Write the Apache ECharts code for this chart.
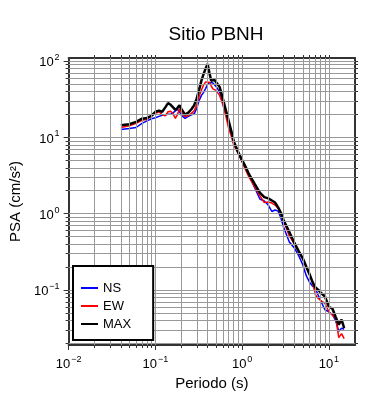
<!DOCTYPE html>
<html>
<head>
<meta charset="utf-8">
<script src="https://cdn.jsdelivr.net/npm/echarts@6/dist/echarts.min.js"></script>
<style>
  html, body { margin: 0; padding: 0; background: #fff; }
  #chart { width: 390px; height: 400px; }
</style>
</head>
<body>
<div id="chart"></div>
<script>
// periods (s)
const periods = [0.04, 0.05, 0.06, 0.07, 0.08, 0.09, 0.10, 0.11, 0.12, 0.13, 0.14, 0.15, 0.16, 0.17, 0.18, 0.19, 0.20,
  0.22, 0.24, 0.26, 0.28, 0.30, 0.32, 0.34, 0.36, 0.38, 0.40, 0.42, 0.44, 0.46, 0.48, 0.50,
  0.55, 0.60, 0.65, 0.70, 0.75, 0.80, 0.90, 1.0, 1.1, 1.2, 1.4, 1.6, 1.8, 2.0, 2.2, 2.4, 2.6, 2.8, 3.0,
  3.5, 4.0, 4.5, 5.0, 5.5, 6.0, 6.5, 7.0, 7.5, 8.0, 9.0, 10, 11, 12, 13, 14, 15];

const ns = [12.7, 13.1, 13.5, 15.3, 16.5, 17.6, 18.1, 18.9, 19.5, 19.8, 20.1, 20.1, 21.0, 22.3, 23.4, 21.7, 19.5,
  17.8, 18.9, 19.8, 20.4, 24.1, 30.6, 35.6, 39.0, 44.0, 49.6, 52.7, 51.9, 51.9, 51.1, 46.7,
  39.6, 27.2, 20.7, 15.8, 12.0, 8.79, 6.31, 4.89, 3.96, 3.21, 2.17, 1.56, 1.47, 1.30, 1.07, 1.12, 1.08, 0.879, 0.670,
  0.427, 0.356, 0.280, 0.214, 0.153, 0.126, 0.112, 0.104, 0.0865, 0.0733, 0.0551, 0.0519, 0.0474, 0.0396, 0.0288, 0.0316, 0.0306];

const ew = [13.5, 14.2, 15.3, 16.8, 17.3, 19.2, 20.7, 21.7, 19.8, 19.2, 21.7, 22.0, 20.4, 17.8, 20.1, 23.7, 21.0,
  18.7, 19.5, 20.7, 22.3, 26.8, 34.6, 42.0, 48.9, 53.5, 56.0, 52.7, 47.4, 43.3, 42.7, 41.4,
  35.6, 27.2, 18.9, 13.2, 10.4, 7.91, 6.22, 4.78, 3.73, 3.02, 2.23, 1.73, 1.40, 1.42, 1.38, 1.30, 1.17, 0.991, 0.803,
  0.511, 0.402, 0.316, 0.256, 0.195, 0.158, 0.124, 0.0865, 0.0779, 0.0733, 0.0670, 0.0519, 0.0467, 0.0427, 0.0237, 0.0268, 0.0230];

const maxv = [14.4, 14.9, 16.0, 17.6, 18.0, 19.2, 21.7, 22.5, 21.7, 24.8, 28.2, 26.8, 24.8, 23.0, 24.4, 26.4, 23.4,
  19.9, 21.2, 23.4, 26.4, 32.5, 42.7, 56.0, 68.0, 80.3, 91.9, 70.1, 55.5, 56.0, 56.8, 55.5,
  46.0, 32.1, 22.7, 16.4, 12.1, 8.92, 6.41, 5.04, 4.08, 3.30, 2.44, 1.89, 1.65, 1.59, 1.49, 1.40, 1.21, 1.02, 0.827,
  0.576, 0.414, 0.321, 0.260, 0.201, 0.160, 0.126, 0.108, 0.101, 0.0933, 0.0822, 0.0603, 0.0568, 0.0440, 0.0351, 0.0408, 0.0316];

// axis ticks / labels
const xMajor = [0.01, 0.1, 1, 10];
const yMajor = [0.1, 1, 10, 100];
const xDecades = [0.01, 0.1, 1, 10];
const yDecades = [0.01, 0.1, 1, 10, 100];

const FONT = 'Liberation Sans';
const X_MIN = 0.01, X_MAX = 20, Y_MIN = 0.019, Y_MAX = 110;

function subLines(decades, lo, hi) {
  let out = [];
  decades.forEach(d => {
    for (let k = 1; k <= 9; k++) {
      let v = +(d * k).toPrecision(3);
      if (v > lo * 1.0001 && v < hi * 0.9999) out.push(v);
    }
  });
  return out;
}
const xGrid = subLines(xDecades, X_MIN, X_MAX);
const yGrid = subLines(yDecades, Y_MIN, Y_MAX);
const xMinor = xGrid.filter(v => xMajor.indexOf(v) < 0);
const yMinor = yGrid.filter(v => yMajor.indexOf(v) < 0);

function powLabel(v) {
  let e = Math.round(Math.log10(v));
  let s = String(e).replace('-', '\u2212');
  return '{b|10}{s|' + s + '}';
}
const labelRich = {
  b: { fontSize: 13, fontFamily: FONT, color: '#000', lineHeight: 16, verticalAlign: 'bottom' },
  s: { fontSize: 9, fontFamily: FONT, color: '#000', lineHeight: 16, verticalAlign: 'top', padding: [0, 0, 0, 1] }
};

const frame = { show: true, lineStyle: { color: '#333', width: 2 } };
const tickStyle = { color: '#333', width: 1 };

let myChart = echarts.init(document.getElementById('chart'));

let option = {
  animation: false,
  backgroundColor: '#fff',
  title: {
    text: 'Sitio PBNH',
    left: 211,
    top: 20,
    textAlign: 'center',
    textStyle: { fontFamily: FONT, fontSize: 19, fontWeight: 'normal', color: '#000' }
  },
  legend: {
    orient: 'vertical',
    left: 73,
    top: 266,
    z: 10,
    padding: [15, 22, 9, 8],
    icon: 'rect',
    itemWidth: 17,
    itemHeight: 2,
    itemGap: 4,
    itemTextGap: 9,
    backgroundColor: '#fff',
    borderColor: '#000',
    borderWidth: 2,
    borderRadius: 0,
    data: ['NS', 'EW', 'MAX'],
    textStyle: { fontFamily: FONT, fontSize: 13, color: '#000', lineHeight: 14 }
  },
  grid: { left: 67, right: 35, top: 58, bottom: 55 },
  xAxis: [
    {
      type: 'log', logBase: 10, min: X_MIN, max: X_MAX, position: 'bottom',
      name: 'Periodo (s)', nameLocation: 'middle', nameGap: 29,
      nameTextStyle: { fontFamily: FONT, fontSize: 15, color: '#000' },
      axisLine: frame,
      axisTick: { show: true, customValues: xMajor, length: 5, lineStyle: tickStyle },
      axisLabel: { customValues: xMajor, formatter: powLabel, rich: labelRich, margin: 10 },
      splitLine: { show: false }
    },
    {
      type: 'log', logBase: 10, min: X_MIN, max: X_MAX, position: 'bottom',
      axisLine: { show: false },
      axisTick: { show: true, customValues: xMinor, length: 3, lineStyle: tickStyle },
      axisLabel: { show: false },
      splitLine: { show: false }
    },
    {
      type: 'log', logBase: 10, min: X_MIN, max: X_MAX, position: 'top',
      axisLine: frame,
      axisTick: { show: true, customValues: xGrid, length: 3, lineStyle: tickStyle },
      axisLabel: { show: false },
      splitLine: { show: false }
    }
  ],
  yAxis: [
    {
      type: 'log', logBase: 10, min: Y_MIN, max: Y_MAX, position: 'left',
      name: 'PSA (cm/s²)', nameLocation: 'middle', nameGap: 42,
      nameTextStyle: { fontFamily: FONT, fontSize: 15, color: '#000' },
      axisLine: frame,
      axisTick: { show: true, customValues: yMajor, length: 5, lineStyle: tickStyle },
      axisLabel: { customValues: yMajor, formatter: powLabel, rich: labelRich, margin: 9 },
      splitLine: { show: false }
    },
    {
      type: 'log', logBase: 10, min: Y_MIN, max: Y_MAX, position: 'left',
      axisLine: { show: false },
      axisTick: { show: true, customValues: yMinor, length: 3, lineStyle: tickStyle },
      axisLabel: { show: false },
      splitLine: { show: false }
    },
    {
      type: 'log', logBase: 10, min: Y_MIN, max: Y_MAX, position: 'right',
      axisLine: frame,
      axisTick: { show: true, customValues: yGrid, length: 3, lineStyle: tickStyle },
      axisLabel: { show: false },
      splitLine: { show: false }
    }
  ],
  series: [
    {
      name: 'grid', type: 'line', data: [], z: 1, silent: true,
      markLine: {
        silent: true, symbol: ['none', 'none'], animation: false,
        label: { show: false },
        lineStyle: { color: '#999', width: 1, type: 'solid' },
        emphasis: { disabled: true },
        data: xGrid.map(v => ({ xAxis: v })).concat(yGrid.map(v => ({ yAxis: v })))
      }
    },
    {
      name: 'NS', type: 'line', symbol: 'none', z: 3,
      data: periods.map((t, i) => [t, ns[i]]),
      lineStyle: { color: '#0000ff', width: 1.5 }, itemStyle: { color: '#0000ff' }
    },
    {
      name: 'EW', type: 'line', symbol: 'none', z: 3,
      data: periods.map((t, i) => [t, ew[i]]),
      lineStyle: { color: '#ff0000', width: 1.5 }, itemStyle: { color: '#ff0000' }
    },
    {
      name: 'MAX', type: 'line', symbol: 'none', z: 4,
      data: periods.map((t, i) => [t, maxv[i]]),
      lineStyle: { color: '#000', width: 2.5 }, itemStyle: { color: '#000' }
    }
  ]
};

myChart.setOption(option, true);
</script>
</body>
</html>
